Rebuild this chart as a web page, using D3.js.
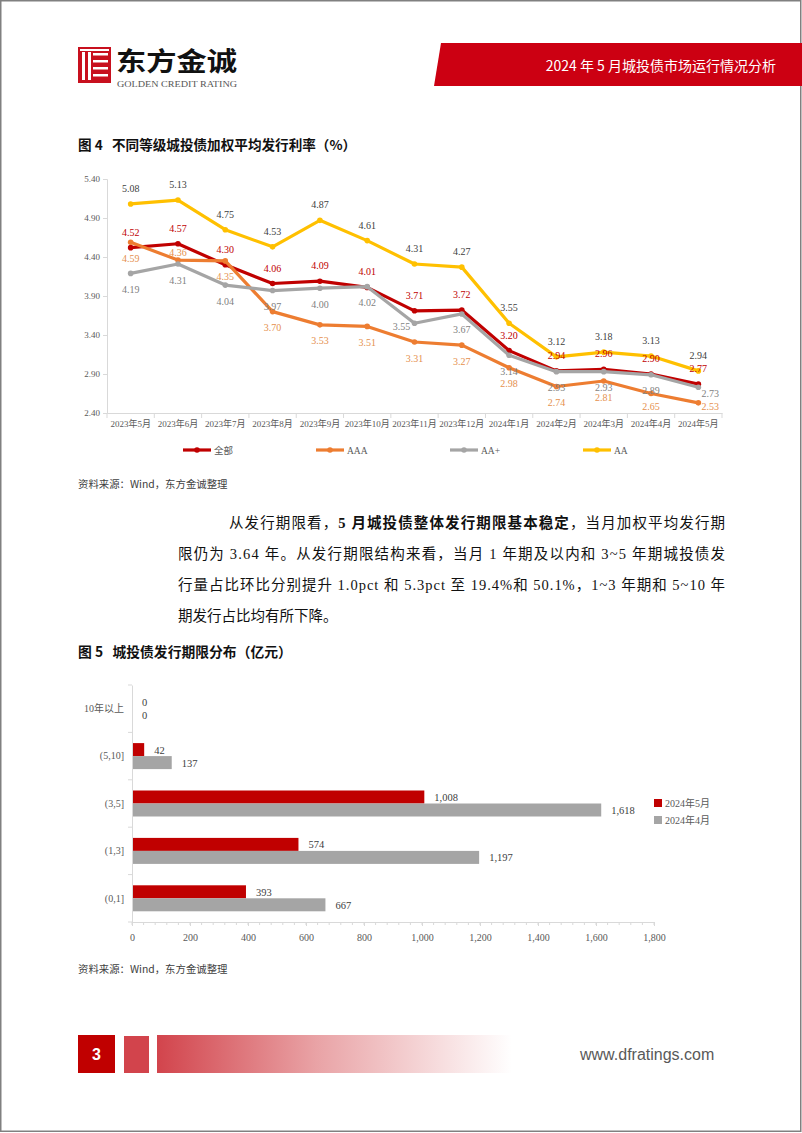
<!DOCTYPE html>
<html><head><meta charset="utf-8">
<script src="https://cdn.jsdelivr.net/npm/d3@7/dist/d3.min.js"></script>
<style>
html,body{margin:0;padding:0;background:#fff;}
svg{display:block;}
</style></head>
<body>
<svg id="page" width="802" height="1133"></svg>
<script>
// ---------- DATA ----------
const months = ['2023年5月','2023年6月','2023年7月','2023年8月','2023年9月','2023年10月','2023年11月','2023年12月','2024年1月','2024年2月','2024年3月','2024年4月','2024年5月'];
const seriesNames = ['全部','AAA','AA+','AA'];
const rateAll = [4.52,4.57,4.30,4.06,4.09,4.01,3.71,3.72,3.20,2.94,2.96,2.90,2.77];
const rateAAA = [4.59,4.36,4.35,3.70,3.53,3.51,3.31,3.27,2.98,2.74,2.81,2.65,2.53];
const rateAAp = [4.19,4.31,4.04,3.97,4.00,4.02,3.55,3.67,3.14,2.93,2.93,2.89,2.73];
const rateAA  = [5.08,5.13,4.75,4.53,4.87,4.61,4.31,4.27,3.55,3.12,3.18,3.13,2.94];
const rateTicks = [2.40,2.90,3.40,3.90,4.40,4.90,5.40];
// data-label placement (a = above, b = below, r = right, l = left, n = near above)
const placeAll = ['a','a','a','a','a','a','a','a','a','a','a','a','a'];
const placeAAA = ['b','n','b','b','b','b','b','b','b','b','b','b','r'];
const placeAAp = ['b','b','b','b','b','b','l','b','b','b','b','b','r'];
const placeAA  = ['a','a','a','a','a','a','a','a','a','a','a','a','a'];

const terms = ['10年以上','(5,10]','(3,5]','(1,3]','(0,1]'];
const barSeries = ['2024年5月','2024年4月'];
const issueMay = [0,42,1008,574,393];
const issueApr = [0,137,1618,1197,667];
const issueTicks = [0,200,400,600,800,1000,1200,1400,1600,1800];

// ---------- PAGE ----------
const svg = d3.select('#page');
const SERIF = '"Liberation Serif","Times New Roman","Noto Sans CJK SC",serif';
const SANS = '"Noto Sans CJK SC","Liberation Sans",sans-serif';

svg.append('rect').attr('x',0.75).attr('y',0.75).attr('width',800).attr('height',1130.5)
  .attr('fill','#fff').attr('stroke','#808080').attr('stroke-width',1.5);

// header logo
const logo = svg.append('g');
logo.append('rect').attr('x',78).attr('y',47).attr('width',33).attr('height',36).attr('fill','#C8101E');
[[82,52,3,28],[88,52,3,28]].forEach(r=>logo.append('rect').attr('x',r[0]).attr('y',r[1]).attr('width',r[2]).attr('height',r[3]).attr('fill','#fff'));
[[93,53,15],[93,60,15],[93,67,15],[93,74,15]].forEach(r=>logo.append('rect').attr('x',r[0]).attr('y',r[1]).attr('width',r[2]).attr('height',2.5).attr('fill','#fff'));
logo.append('rect').attr('x',80).attr('y',49).attr('width',29).attr('height',2).attr('fill','#fff');
svg.append('text').attr('x',116).attr('y',71).attr('font-family',SANS).attr('font-weight',700)
  .attr('font-size',26).attr('fill','#111').attr('textLength',121).attr('lengthAdjust','spacingAndGlyphs').text('东方金诚');
svg.append('text').attr('x',117).attr('y',87).attr('font-family',SERIF)
  .attr('font-size',8).attr('fill','#555').attr('textLength',120).attr('lengthAdjust','spacingAndGlyphs').text('GOLDEN CREDIT RATING');

// banner
svg.append('polygon').attr('points','441,43 802,43 802,86 434,86').attr('fill','#CC0012');
svg.append('text').attr('x',776).attr('y',71).attr('text-anchor','end').attr('font-family',SANS)
  .attr('font-size',14).attr('fill','#fff').text('2024 年 5 月城投债市场运行情况分析');

// ---------- FIGURE 4 ----------
svg.append('text').attr('x',78).attr('y',150).attr('font-family',SANS).attr('font-weight',700)
  .attr('font-size',13.6).attr('fill','#111').attr('xml:space','preserve').text('图 4   不同等级城投债加权平均发行利率（%）');

const x4 = d3.scaleBand().domain(months).range([107,722]);
const y4 = d3.scaleLinear().domain([2.40,5.40]).range([413,179]);

const g4 = svg.append('g');
const ya = g4.append('g').attr('transform','translate(107,0)')
  .call(d3.axisLeft(y4).tickValues(rateTicks).tickFormat(d3.format('.2f')).tickSize(4).tickPadding(3));
ya.select('.domain').attr('stroke','#d9d9d9');
ya.selectAll('.tick line').attr('stroke','#d9d9d9');
ya.selectAll('.tick text').attr('font-family',SERIF).attr('font-size',9).attr('fill','#595959');
const xa = g4.append('g').attr('transform','translate(0,413)')
  .call(d3.axisBottom(x4).tickSize(0).tickPadding(8));
xa.select('.domain').attr('stroke','#d9d9d9');
xa.selectAll('.tick text').attr('font-family',SERIF).attr('font-size',9).attr('fill','#595959');
g4.selectAll('.xb').data(months.concat(['end'])).enter().append('line')
  .attr('x1',(d,i)=>107+i*x4.step()).attr('x2',(d,i)=>107+i*x4.step())
  .attr('y1',413).attr('y2',418).attr('stroke','#d9d9d9');

const series = [
  {name:seriesNames[0], vals:rateAll, place:placeAll, color:'#C00000', lab:'#C00000'},
  {name:seriesNames[1], vals:rateAAA, place:placeAAA, color:'#ED7D31', lab:'#E5904E'},
  {name:seriesNames[2], vals:rateAAp, place:placeAAp, color:'#A5A5A5', lab:'#7f7f7f'},
  {name:seriesNames[3], vals:rateAA,  place:placeAA,  color:'#FFC000', lab:'#404040'}
];
const cx = d => x4(d)+x4.bandwidth()/2;
const line = d3.line().x((d,i)=>cx(months[i])).y(d=>y4(d));
series.forEach(s=>{
  g4.append('path').datum(s.vals).attr('d',line).attr('fill','none')
    .attr('stroke',s.color).attr('stroke-width',3.2).attr('stroke-linejoin','round');
  g4.selectAll(null).data(s.vals).enter().append('circle')
    .attr('cx',(d,i)=>cx(months[i])).attr('cy',d=>y4(d)).attr('r',2.8).attr('fill',s.color);
});
const dx = {a:0,b:0,r:12,l:-13,n:0};
const dy = {a:-12,b:19.5,r:9.5,l:7,n:-4};
series.forEach(s=>{
  g4.selectAll(null).data(s.vals).enter().append('text')
    .attr('x',(d,i)=>cx(months[i])+dx[s.place[i]])
    .attr('y',(d,i)=>Math.min(y4(d)+dy[s.place[i]],410))
    .attr('text-anchor','middle').attr('font-family',SERIF).attr('font-size',10)
    .attr('fill',s.lab).text(d=>d3.format('.2f')(d));
});
const legX = [183,316,450,583];
series.forEach((s,i)=>{
  const lg = g4.append('g').attr('transform',`translate(${legX[i]},450)`);
  lg.append('line').attr('x1',0).attr('x2',28).attr('y1',0).attr('y2',0).attr('stroke',s.color).attr('stroke-width',3.2);
  lg.append('circle').attr('cx',14).attr('cy',0).attr('r',2.8).attr('fill',s.color);
  lg.append('text').attr('x',31).attr('y',3.5).attr('font-family',SERIF).attr('font-size',9.5).attr('fill','#595959').text(s.name);
});
svg.append('text').attr('x',78).attr('y',488).attr('font-family',SANS).attr('font-size',10.4).attr('fill','#404040').text('资料来源：Wind，东方金诚整理');

// ---------- PARAGRAPH ----------
const para = svg.append('g').attr('font-family',SERIF).attr('font-size',14.5).attr('fill','#111');
const p1 = para.append('text').attr('x',229).attr('y',528).attr('textLength',496).attr('lengthAdjust','spacing');
p1.append('tspan').text('从发行期限看，');
p1.append('tspan').attr('font-weight',700).text('5 月城投债整体发行期限基本稳定');
p1.append('tspan').text('，当月加权平均发行期');
para.append('text').attr('x',178).attr('y',559).attr('textLength',547).attr('lengthAdjust','spacing')
  .text('限仍为 3.64 年。从发行期限结构来看，当月 1 年期及以内和 3~5 年期城投债发');
para.append('text').attr('x',178).attr('y',590).attr('textLength',547).attr('lengthAdjust','spacing')
  .text('行量占比环比分别提升 1.0pct 和 5.3pct 至 19.4%和 50.1%，1~3 年期和 5~10 年');
para.append('text').attr('x',178).attr('y',621).text('期发行占比均有所下降。');

// ---------- FIGURE 5 ----------
svg.append('text').attr('x',78).attr('y',657).attr('font-family',SANS).attr('font-weight',700)
  .attr('font-size',13.8).attr('fill','#111').attr('xml:space','preserve').text('图 5   城投债发行期限分布（亿元）');

const x5 = d3.scaleLinear().domain([0,1800]).range([132,654]);
const y5 = d3.scaleBand().domain(terms).range([685,922]);
const g5 = svg.append('g');
const barH = 13;
const rows = terms.map((t,i)=>({t, may:issueMay[i], apr:issueApr[i]}));
g5.selectAll('.bm').data(rows).enter().append('rect')
  .attr('x',x5(0)).attr('y',d=>y5(d.t)+y5.bandwidth()/2-barH).attr('width',d=>x5(d.may)-x5(0)).attr('height',barH).attr('fill','#C00000');
g5.selectAll('.ba').data(rows).enter().append('rect')
  .attr('x',x5(0)).attr('y',d=>y5(d.t)+y5.bandwidth()/2).attr('width',d=>x5(d.apr)-x5(0)).attr('height',barH).attr('fill','#A5A5A5');
const fmt = d3.format(',');
g5.selectAll('.lm').data(rows).enter().append('text')
  .attr('x',d=>x5(d.may)+10).attr('y',d=>y5(d.t)+y5.bandwidth()/2-barH/2+4)
  .attr('font-family',SERIF).attr('font-size',10.5).attr('fill','#404040').text(d=>fmt(d.may));
g5.selectAll('.la').data(rows).enter().append('text')
  .attr('x',d=>x5(d.apr)+10).attr('y',d=>y5(d.t)+y5.bandwidth()/2+barH/2+4)
  .attr('font-family',SERIF).attr('font-size',10.5).attr('fill','#404040').text(d=>fmt(d.apr));
const ya5 = g5.append('g').attr('transform','translate(132,0)').call(d3.axisLeft(y5).tickSize(0).tickPadding(8));
ya5.select('.domain').attr('stroke','#d9d9d9');
ya5.selectAll('.tick text').attr('font-family',SERIF).attr('font-size',10).attr('fill','#595959');
g5.selectAll('.yt').data(terms.concat(['end'])).enter().append('line')
  .attr('x1',128).attr('x2',132).attr('y1',(d,i)=>685+i*y5.step()).attr('y2',(d,i)=>685+i*y5.step()).attr('stroke','#d9d9d9');
const xa5 = g5.append('g').attr('transform','translate(0,922)')
  .call(d3.axisBottom(x5).tickValues(issueTicks).tickFormat(fmt).tickSize(4).tickPadding(8));
xa5.select('.domain').attr('stroke','#d9d9d9');
xa5.selectAll('.tick line').attr('stroke','#d9d9d9');
xa5.selectAll('.tick text').attr('font-family',SERIF).attr('font-size',10).attr('fill','#595959');
g5.selectAll('.mt').data(d3.range(0,1801,40)).enter().append('line')
  .attr('x1',d=>x5(d)).attr('x2',d=>x5(d)).attr('y1',922).attr('y2',925).attr('stroke','#d9d9d9');
const barColors = ['#C00000','#A5A5A5'];
barSeries.forEach((n,i)=>{
  const lg = g5.append('g').attr('transform',`translate(654,${799+i*17})`);
  lg.append('rect').attr('width',8).attr('height',8).attr('fill',barColors[i]);
  lg.append('text').attr('x',11).attr('y',8).attr('font-family',SERIF).attr('font-size',10).attr('fill','#595959').text(n);
});
svg.append('text').attr('x',78).attr('y',973).attr('font-family',SANS).attr('font-size',10.4).attr('fill','#404040').text('资料来源：Wind，东方金诚整理');

// ---------- FOOTER ----------
const defs = svg.append('defs');
const gr = defs.append('linearGradient').attr('id','fg').attr('x1','0').attr('x2','1').attr('y1','0').attr('y2','0');
gr.append('stop').attr('offset','0').attr('stop-color','#D2444C');
gr.append('stop').attr('offset','0.45').attr('stop-color','#E9A3A6');
gr.append('stop').attr('offset','1').attr('stop-color','#ffffff');
svg.append('rect').attr('x',78).attr('y',1035).attr('width',37).attr('height',38).attr('fill','#C00000');
svg.append('text').attr('x',96.5).attr('y',1060).attr('text-anchor','middle').attr('font-family','"Liberation Sans",Arial,sans-serif')
  .attr('font-weight',700).attr('font-size',16).attr('fill','#fff').text('3');
svg.append('rect').attr('x',124).attr('y',1036).attr('width',25).attr('height',37).attr('fill','#D2444C');
svg.append('rect').attr('x',157).attr('y',1035).attr('width',355).attr('height',38).attr('fill','url(#fg)');
svg.append('text').attr('x',580).attr('y',1060).attr('font-family','"Liberation Sans",Arial,sans-serif')
  .attr('font-size',16).attr('fill','#595959').text('www.dfratings.com');
</script>
</body></html>
